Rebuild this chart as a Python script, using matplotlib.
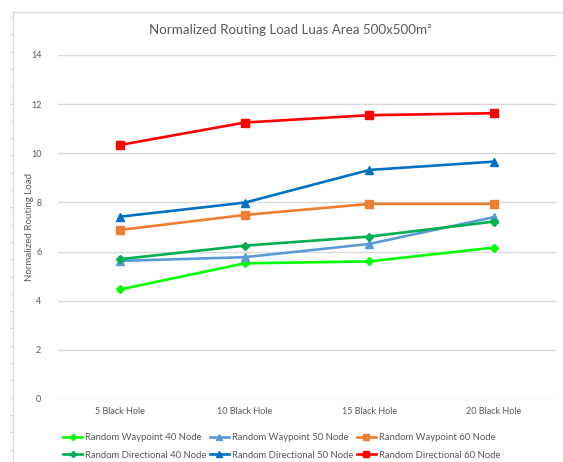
import matplotlib.pyplot as plt
from matplotlib.lines import Line2D

plt.rcParams['font.family'] = ['Lato', 'DejaVu Sans']

categories = ['5 Black Hole', '10 Black Hole', '15 Black Hole', '20 Black Hole']

rw_40 = [4.46, 5.52, 5.60, 6.16]
rw_50 = [5.62, 5.77, 6.31, 7.40]
rw_60 = [6.88, 7.49, 7.94, 7.94]
rd_40 = [5.69, 6.24, 6.61, 7.22]
rd_50 = [7.42, 7.99, 9.32, 9.66]
rd_60 = [10.34, 11.25, 11.55, 11.63]

series = [
    ('Random Waypoint 40 Node', rw_40, '#00FF00', 'D'),
    ('Random Waypoint 50 Node', rw_50, '#5B9BD5', '^'),
    ('Random Waypoint 60 Node', rw_60, '#ED7D31', 's'),
    ('Random Directional 40 Node', rd_40, '#00B050', 'D'),
    ('Random Directional 50 Node', rd_50, '#0070C0', '^'),
    ('Random Directional 60 Node', rd_60, '#FF0000', 's'),
]

fig = plt.figure(figsize=(5.63, 4.62), dpi=100)
ax = fig.add_axes([0.103, 0.1364, 0.8846, 0.7446])

x = list(range(len(categories)))
for name, vals, color, mk in series:
    ax.plot(x, vals, color=color, lw=1.9, marker=mk, ms=6 if mk != 'D' else 4.5,
            label=name, zorder=3)

ax.set_xlim(-0.5, len(categories) - 0.5)
ax.set_ylim(0, 14)
ax.set_yticks(range(0, 15, 2))
ax.set_xticks(x)
ax.set_xticklabels(categories)
ax.grid(axis='y', color='#D9D9D9', lw=1.0)
ax.set_axisbelow(True)
for s in ax.spines.values():
    s.set_visible(False)
ax.tick_params(length=0, labelsize=6.5, colors='#595959', pad=6)
ax.tick_params(axis='y', pad=12)
ax.set_ylabel('Normalized Routing Load', fontsize=7, color='#595959', labelpad=-2)

fig.text(0.515, 0.935, 'Normalized Routing Load Luas Area 500x500m\u00b2',
         ha='center', va='center', fontsize=9.6, color='#595959')

# light sheet border on the top and left edges
fig.add_artist(Line2D([13, 563], [450, 450], transform=None, color='#D9D9D9', lw=1))
fig.add_artist(Line2D([13, 13], [0, 450], transform=None, color='#D9D9D9', lw=1))
yt = 462 - 17
while yt > 0:
    fig.add_artist(Line2D([10, 13], [yt, yt], transform=None, color='#D9D9D9', lw=0.8))
    yt -= 17.3

# legend fills row by row: three entries per row
handles, labels = ax.get_legend_handles_labels()
order = [0, 3, 1, 4, 2, 5]
fig.legend([handles[i] for i in order], [labels[i] for i in order],
           loc='center', bbox_to_anchor=(0.5, 0.034), ncol=3, frameon=False,
           fontsize=6.8, handlelength=2.0, handletextpad=0.3, columnspacing=0.4,
           labelspacing=0.9, markerscale=0.7, labelcolor='#595959')

fig.savefig('out.png', dpi=100)
